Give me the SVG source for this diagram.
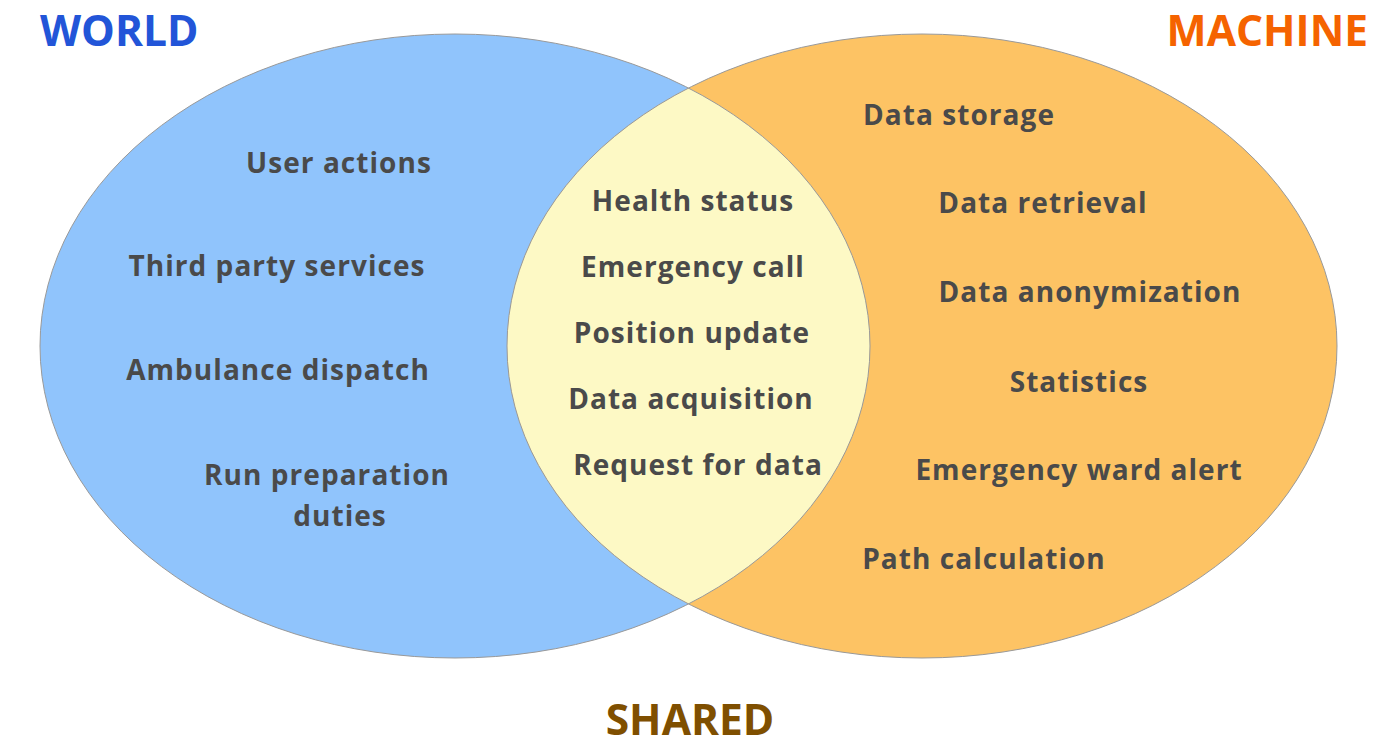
<svg xmlns="http://www.w3.org/2000/svg" width="1379" height="748" viewBox="0 0 1379 748">
<style>
.lbl{font-family:"Open Sans","Noto Sans","Liberation Sans",sans-serif;font-weight:700;font-size:28px;letter-spacing:1.05px;fill:#4a4a4a;text-anchor:middle}
.ttl{font-family:"Open Sans","Noto Sans","Liberation Sans",sans-serif;font-weight:700;font-size:42.5px}
.edge{fill:none;stroke:#999999;stroke-width:1}
</style>
<defs>
<clipPath id="clipLeft"><ellipse cx="455" cy="346" rx="415" ry="312"/></clipPath>
</defs>
<rect width="1379" height="748" fill="#ffffff"/>
<g id="world-set">
<ellipse cx="455" cy="346" rx="415" ry="312" fill="#90c4fc"/>
</g>
<g id="machine-set">
<ellipse cx="922" cy="346" rx="415" ry="312" fill="#fdc364"/>
</g>
<g id="shared-set">
<ellipse cx="922" cy="346" rx="415" ry="312" fill="#fdf9c5" clip-path="url(#clipLeft)"/>
</g>
<g id="outlines">
<ellipse class="edge" cx="455" cy="346" rx="415" ry="312"/>
<ellipse class="edge" cx="922" cy="346" rx="415" ry="312"/>
</g>
<g id="titles">
<text class="ttl" x="40" y="46" fill="#2255d8">WORLD</text>
<text class="ttl" x="1368" y="46" fill="#f56300" text-anchor="end">MACHINE</text>
<text class="ttl" x="690" y="735" fill="#7f4f00" text-anchor="middle">SHARED</text>
</g>
<g id="world-items">
<text class="lbl" x="339" y="173">User actions</text>
<text class="lbl" x="277" y="276">Third party services</text>
<text class="lbl" x="278" y="380">Ambulance dispatch</text>
<text class="lbl" x="327" y="485">Run preparation</text>
<text class="lbl" x="340" y="526">duties</text>
</g>
<g id="shared-items">
<text class="lbl" x="693" y="211">Health status</text>
<text class="lbl" x="693" y="277">Emergency call</text>
<text class="lbl" x="692" y="343">Position update</text>
<text class="lbl" x="691" y="409">Data acquisition</text>
<text class="lbl" x="698" y="475">Request for data</text>
</g>
<g id="machine-items">
<text class="lbl" x="959" y="125">Data storage</text>
<text class="lbl" x="1043" y="213">Data retrieval</text>
<text class="lbl" x="1090" y="302">Data anonymization</text>
<text class="lbl" x="1079" y="392">Statistics</text>
<text class="lbl" x="1079" y="480">Emergency ward alert</text>
<text class="lbl" x="984" y="569">Path calculation</text>
</g>
</svg>
